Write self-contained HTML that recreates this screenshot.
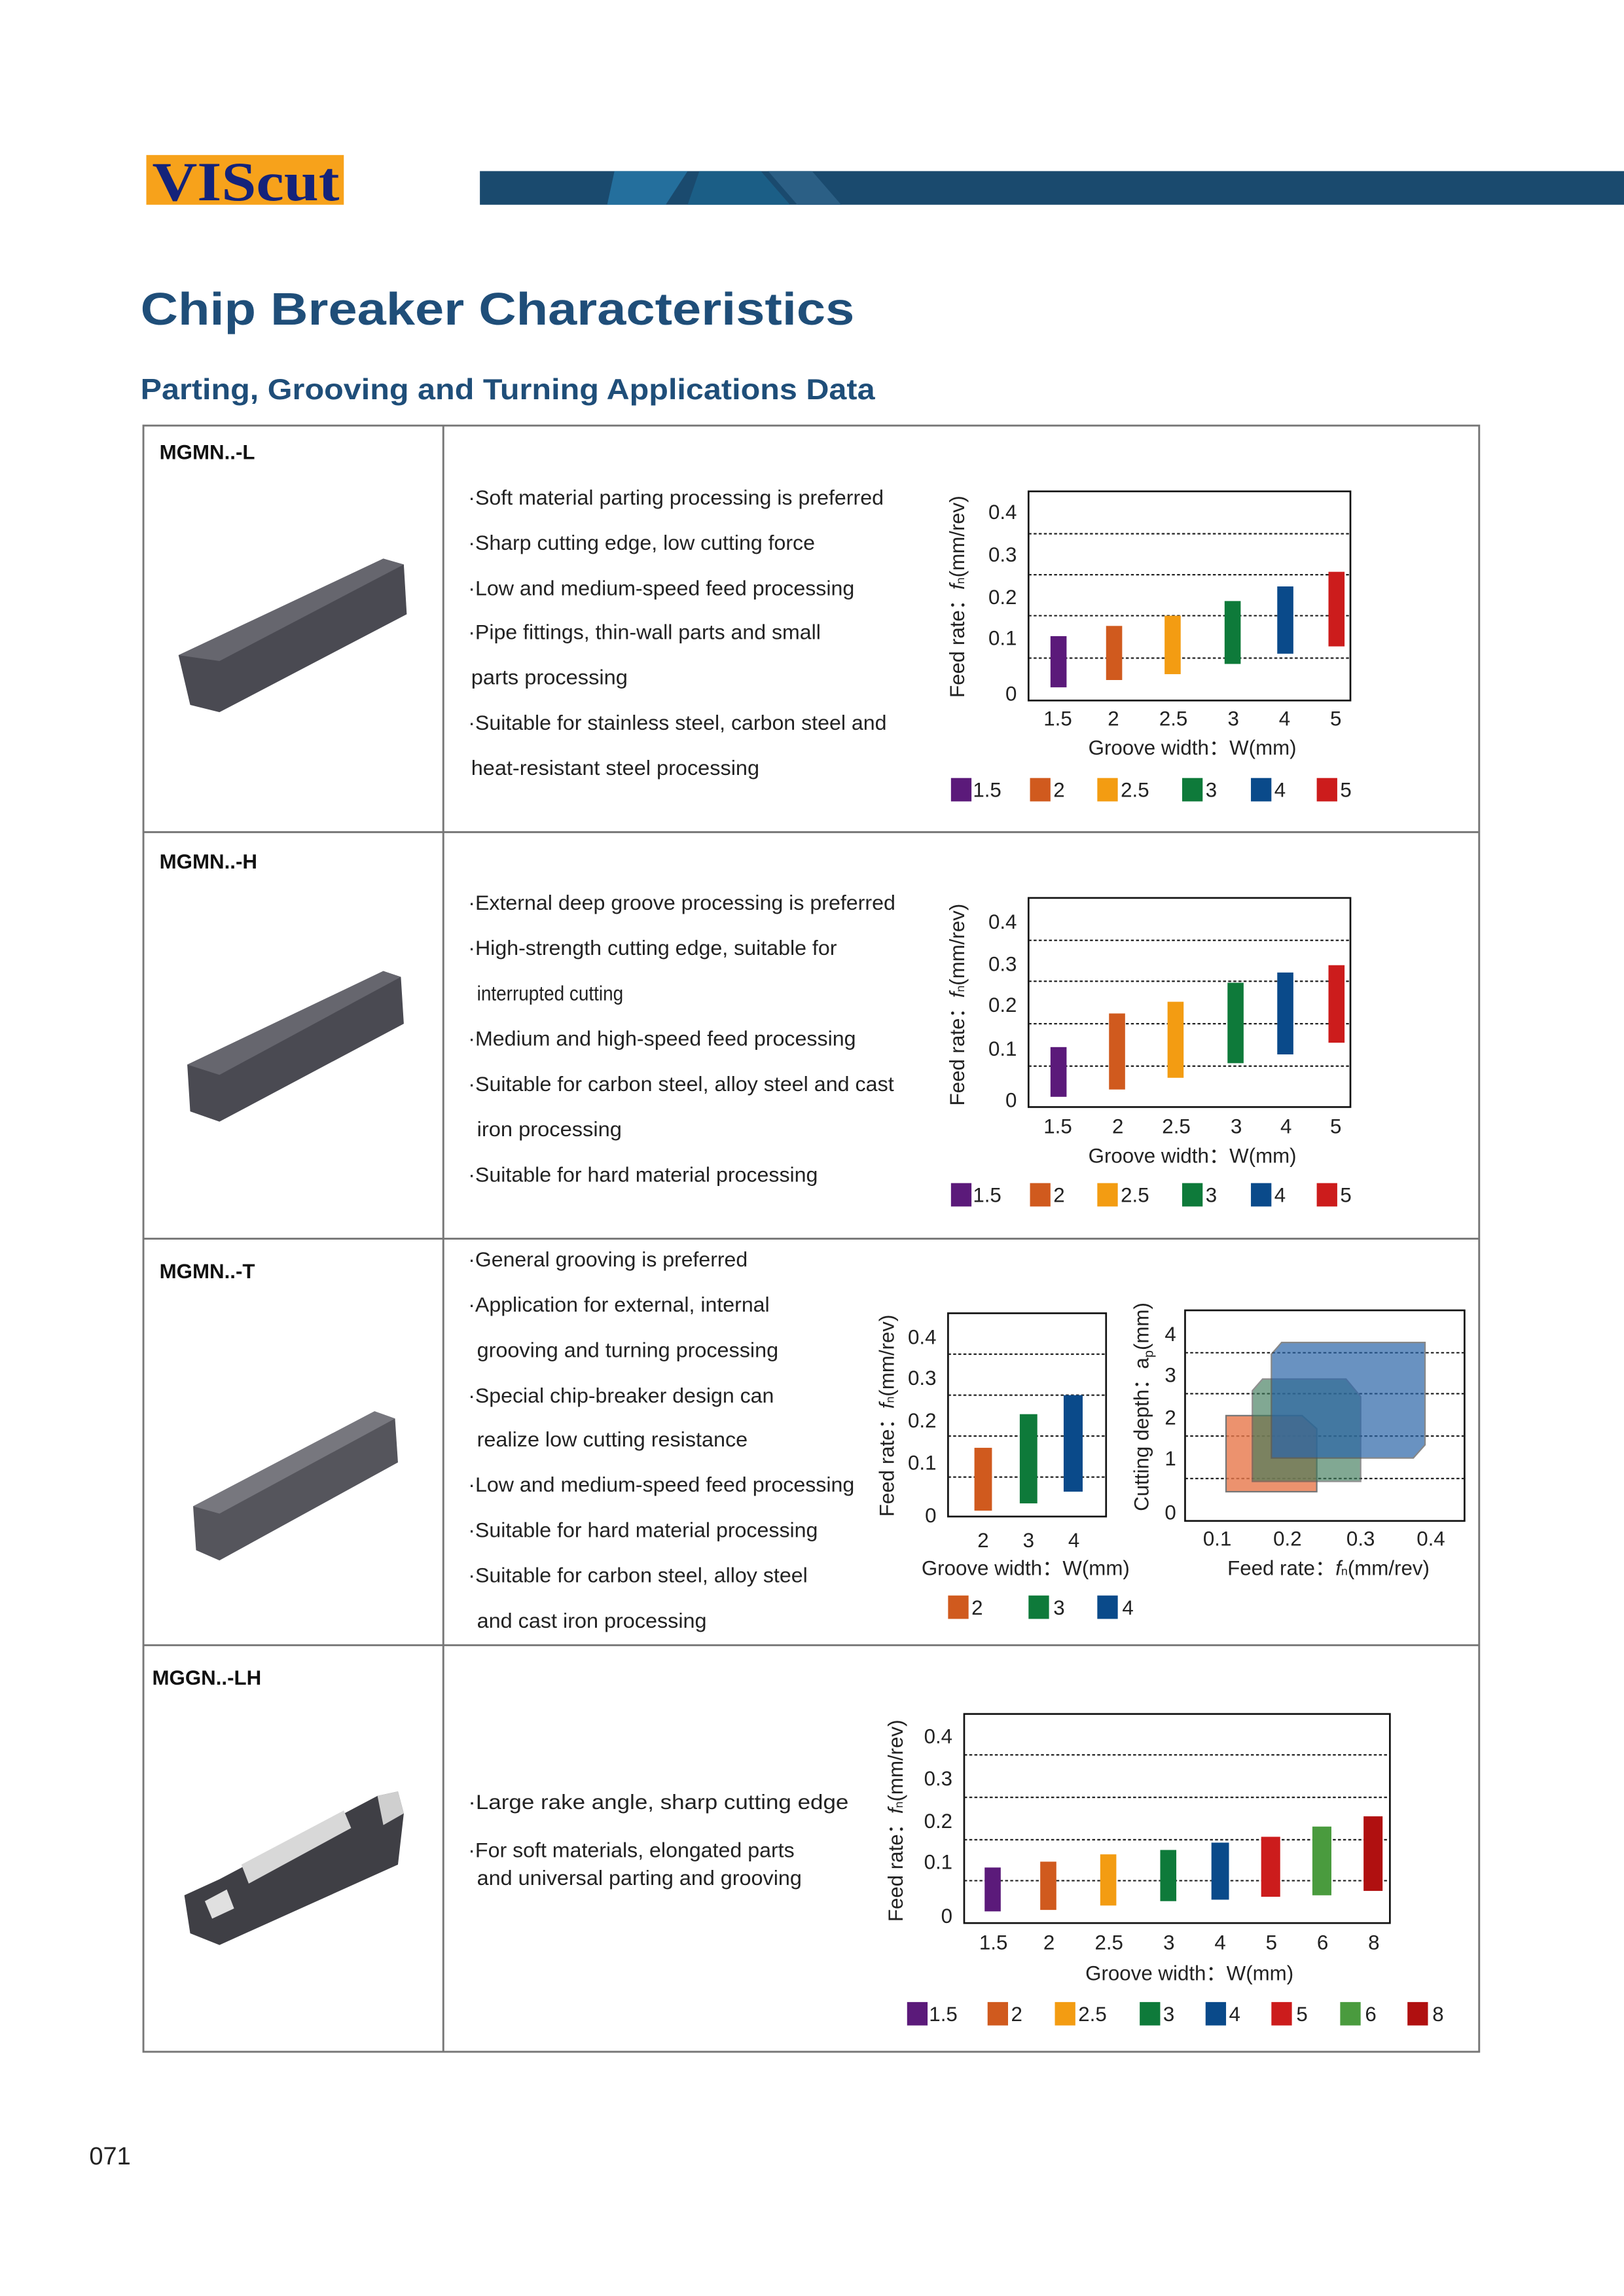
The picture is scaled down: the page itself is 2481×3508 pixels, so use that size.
<!DOCTYPE html>
<html><head><meta charset="utf-8"><style>
html,body{margin:0;padding:0;background:#fff}
svg{display:block}
text{font-family:"Liberation Sans","Noto Sans CJK SC",sans-serif}
</style></head><body>
<svg width="2481" height="3508" viewBox="0 0 1110 1570" preserveAspectRatio="none" xmlns="http://www.w3.org/2000/svg">
<rect width="1110" height="1570" fill="#fff"/>
<!-- header -->
<rect x="100" y="106" width="135" height="34" fill="#f7a21b"/>
<text x="104" y="137" style="font-family:'Liberation Serif',serif" font-weight="bold" font-size="38" fill="#14237a" textLength="128" lengthAdjust="spacingAndGlyphs">VIScut</text>
<rect x="328" y="117" width="782" height="23" fill="#1a4a6e"/>
<path d="M420 117 L470 117 L455 140 L415 140 Z" fill="#2a7fb0" opacity="0.7"/>
<path d="M478 117 L520 117 L540 140 L470 140 Z" fill="#1d6690" opacity="0.7"/>
<path d="M525 117 L555 117 L575 140 L545 140 Z" fill="#2b5f85"/>
<text x="96" y="222" font-size="31" font-weight="bold" fill="#1f4e79" textLength="488" lengthAdjust="spacingAndGlyphs">Chip Breaker Characteristics</text>
<text x="96" y="273" font-size="20" font-weight="bold" fill="#1f4e79" textLength="502" lengthAdjust="spacingAndGlyphs">Parting, Grooving and Turning Applications Data</text>
<!-- table -->
<g stroke="#777" stroke-width="1.3" fill="none">
<rect x="98" y="291" width="913" height="1112"/>
<line x1="303" y1="291" x2="303" y2="1403"/>
<line x1="98" y1="569" x2="1011" y2="569"/>
<line x1="98" y1="847" x2="1011" y2="847"/>
<line x1="98" y1="1125" x2="1011" y2="1125"/>
</g>
<g font-size="14" font-weight="bold" fill="#111">
<text x="109" y="314">MGMN..-L</text>
<text x="109" y="594">MGMN..-H</text>
<text x="109" y="874">MGMN..-T</text>
<text x="104" y="1152">MGGN..-LH</text>
</g>
<!-- inserts -->
<g>
<path d="M122 448 L262 382 L276 386 L278 420 L150 487 L130 482 Z" fill="#4a4a52"/>
<path d="M122 448 L262 382 L276 386 L150 452 Z" fill="#66666e"/>
<path d="M128 728 L262 664 L274 668 L276 700 L150 767 L130 760 Z" fill="#4a4a52"/>
<path d="M128 728 L262 664 L274 668 L150 735 Z" fill="#66666e"/>
<path d="M132 1030 L256 965 L270 970 L272 1000 L150 1067 L134 1060 Z" fill="#55555c"/>
<path d="M132 1030 L256 965 L270 970 L150 1035 Z" fill="#77777e"/>
<path d="M126 1296 L150 1285 L258 1228 L272 1225 L276 1240 L272 1275 L150 1330 L130 1322 Z" fill="#3f3f45"/>
<path d="M165 1275 L235 1238 L240 1250 L170 1288 Z" fill="#d8d8d8"/>
<path d="M258 1228 L272 1225 L276 1240 L262 1248 Z" fill="#cfcfcf"/>
<path d="M140 1300 L155 1292 L160 1305 L145 1312 Z" fill="#e0e0e0"/>
</g>
<!-- texts -->
<g font-size="14" fill="#222">
<text x="320" y="345" textLength="284" lengthAdjust="spacingAndGlyphs">·Soft material parting processing is preferred</text>
<text x="320" y="376" textLength="237" lengthAdjust="spacingAndGlyphs">·Sharp cutting edge, low cutting force</text>
<text x="320" y="407" textLength="264" lengthAdjust="spacingAndGlyphs">·Low and medium-speed feed processing</text>
<text x="320" y="437" textLength="241" lengthAdjust="spacingAndGlyphs">·Pipe fittings, thin-wall parts and small</text>
<text x="322" y="468" textLength="107" lengthAdjust="spacingAndGlyphs">parts processing</text>
<text x="320" y="499" textLength="286" lengthAdjust="spacingAndGlyphs">·Suitable for stainless steel, carbon steel and</text>
<text x="322" y="530" textLength="197" lengthAdjust="spacingAndGlyphs">heat-resistant steel processing</text>

<text x="320" y="622" textLength="292" lengthAdjust="spacingAndGlyphs">·External deep groove processing is preferred</text>
<text x="320" y="653" textLength="252" lengthAdjust="spacingAndGlyphs">·High-strength cutting edge, suitable for</text>
<text x="326" y="684" textLength="100" lengthAdjust="spacingAndGlyphs">interrupted cutting</text>
<text x="320" y="715" textLength="265" lengthAdjust="spacingAndGlyphs">·Medium and high-speed feed processing</text>
<text x="320" y="746" textLength="291" lengthAdjust="spacingAndGlyphs">·Suitable for carbon steel, alloy steel and cast</text>
<text x="326" y="777" textLength="99" lengthAdjust="spacingAndGlyphs">iron processing</text>
<text x="320" y="808" textLength="239" lengthAdjust="spacingAndGlyphs">·Suitable for hard material processing</text>

<text x="320" y="866" textLength="191" lengthAdjust="spacingAndGlyphs">·General grooving is preferred</text>
<text x="320" y="897" textLength="206" lengthAdjust="spacingAndGlyphs">·Application for external, internal</text>
<text x="326" y="928" textLength="206" lengthAdjust="spacingAndGlyphs">grooving and turning processing</text>
<text x="320" y="959" textLength="209" lengthAdjust="spacingAndGlyphs">·Special chip-breaker design can</text>
<text x="326" y="989" textLength="185" lengthAdjust="spacingAndGlyphs">realize low cutting resistance</text>
<text x="320" y="1020" textLength="264" lengthAdjust="spacingAndGlyphs">·Low and medium-speed feed processing</text>
<text x="320" y="1051" textLength="239" lengthAdjust="spacingAndGlyphs">·Suitable for hard material processing</text>
<text x="320" y="1082" textLength="232" lengthAdjust="spacingAndGlyphs">·Suitable for carbon steel, alloy steel</text>
<text x="326" y="1113" textLength="157" lengthAdjust="spacingAndGlyphs">and cast iron processing</text>

<text x="320" y="1237" textLength="260" lengthAdjust="spacingAndGlyphs">·Large rake angle, sharp cutting edge</text>
<text x="320" y="1270" textLength="223" lengthAdjust="spacingAndGlyphs">·For soft materials, elongated parts</text>
<text x="326" y="1289" textLength="222" lengthAdjust="spacingAndGlyphs">and universal parting and grooving</text>
</g>

<!-- CHART 1 -->
<g font-size="14" fill="#222">
<rect x="703" y="336" width="220" height="143" fill="none" stroke="#111" stroke-width="1.2"/>
<g stroke="#222" stroke-dasharray="2,1.5" stroke-width="1"><line x1="703" y1="365" x2="923" y2="365"/><line x1="703" y1="393" x2="923" y2="393"/><line x1="703" y1="421" x2="923" y2="421"/><line x1="703" y1="450" x2="923" y2="450"/></g>
<text x="695" y="355" text-anchor="end">0.4</text><text x="695" y="384" text-anchor="end">0.3</text><text x="695" y="413" text-anchor="end">0.2</text><text x="695" y="441" text-anchor="end">0.1</text><text x="695" y="479" text-anchor="end">0</text>
<rect x="718" y="435" width="11" height="35" fill="#5b1a7a"/>
<rect x="756" y="428" width="11" height="37" fill="#d05a1e"/>
<rect x="796" y="421" width="11" height="40" fill="#f39c12"/>
<rect x="837" y="411" width="11" height="43" fill="#0e7a3a"/>
<rect x="873" y="401" width="11" height="46" fill="#0a4a8a"/>
<rect x="908" y="391" width="11" height="51" fill="#cc1c1c"/>
<g text-anchor="middle"><text x="723" y="496">1.5</text><text x="761" y="496">2</text><text x="802" y="496">2.5</text><text x="843" y="496">3</text><text x="878" y="496">4</text><text x="913" y="496">5</text>
<text x="815" y="516">Groove width：W(mm)</text></g>
<text transform="translate(659,408) rotate(-90)" text-anchor="middle">Feed rate：<tspan font-style="italic">f</tspan><tspan font-size="8">n</tspan>(mm/rev)</text>
<rect x="650" y="532" width="14" height="16" fill="#5b1a7a"/><text x="665" y="545">1.5</text>
<rect x="704" y="532" width="14" height="16" fill="#d05a1e"/><text x="720" y="545">2</text>
<rect x="750" y="532" width="14" height="16" fill="#f39c12"/><text x="766" y="545">2.5</text>
<rect x="808" y="532" width="14" height="16" fill="#0e7a3a"/><text x="824" y="545">3</text>
<rect x="855" y="532" width="14" height="16" fill="#0a4a8a"/><text x="871" y="545">4</text>
<rect x="900" y="532" width="14" height="16" fill="#cc1c1c"/><text x="916" y="545">5</text>
</g>

<!-- CHART 2 -->
<g font-size="14" fill="#222">
<rect x="703" y="614" width="220" height="143" fill="none" stroke="#111" stroke-width="1.2"/>
<g stroke="#222" stroke-dasharray="2,1.5" stroke-width="1"><line x1="703" y1="643" x2="923" y2="643"/><line x1="703" y1="671" x2="923" y2="671"/><line x1="703" y1="700" x2="923" y2="700"/><line x1="703" y1="729" x2="923" y2="729"/></g>
<text x="695" y="635" text-anchor="end">0.4</text><text x="695" y="664" text-anchor="end">0.3</text><text x="695" y="692" text-anchor="end">0.2</text><text x="695" y="722" text-anchor="end">0.1</text><text x="695" y="757" text-anchor="end">0</text>
<rect x="718" y="716" width="11" height="34" fill="#5b1a7a"/>
<rect x="758" y="693" width="11" height="52" fill="#d05a1e"/>
<rect x="798" y="685" width="11" height="52" fill="#f39c12"/>
<rect x="839" y="672" width="11" height="55" fill="#0e7a3a"/>
<rect x="873" y="665" width="11" height="56" fill="#0a4a8a"/>
<rect x="908" y="660" width="11" height="53" fill="#cc1c1c"/>
<g text-anchor="middle"><text x="723" y="775">1.5</text><text x="764" y="775">2</text><text x="804" y="775">2.5</text><text x="845" y="775">3</text><text x="879" y="775">4</text><text x="913" y="775">5</text>
<text x="815" y="795">Groove width：W(mm)</text></g>
<text transform="translate(659,687) rotate(-90)" text-anchor="middle">Feed rate：<tspan font-style="italic">f</tspan><tspan font-size="8">n</tspan>(mm/rev)</text>
<rect x="650" y="809" width="14" height="16" fill="#5b1a7a"/><text x="665" y="822">1.5</text>
<rect x="704" y="809" width="14" height="16" fill="#d05a1e"/><text x="720" y="822">2</text>
<rect x="750" y="809" width="14" height="16" fill="#f39c12"/><text x="766" y="822">2.5</text>
<rect x="808" y="809" width="14" height="16" fill="#0e7a3a"/><text x="824" y="822">3</text>
<rect x="855" y="809" width="14" height="16" fill="#0a4a8a"/><text x="871" y="822">4</text>
<rect x="900" y="809" width="14" height="16" fill="#cc1c1c"/><text x="916" y="822">5</text>
</g>

<!-- CHART 3a -->
<g font-size="14" fill="#222">
<rect x="648" y="898" width="108" height="139" fill="none" stroke="#111" stroke-width="1.2"/>
<g stroke="#222" stroke-dasharray="2,1.5" stroke-width="1"><line x1="648" y1="926" x2="756" y2="926"/><line x1="648" y1="954" x2="756" y2="954"/><line x1="648" y1="982" x2="756" y2="982"/><line x1="648" y1="1010" x2="756" y2="1010"/></g>
<text x="640" y="919" text-anchor="end">0.4</text><text x="640" y="947" text-anchor="end">0.3</text><text x="640" y="976" text-anchor="end">0.2</text><text x="640" y="1005" text-anchor="end">0.1</text><text x="640" y="1041" text-anchor="end">0</text>
<rect x="666" y="990" width="12" height="43" fill="#d05a1e"/>
<rect x="697" y="967" width="12" height="61" fill="#0e7a3a"/>
<rect x="727" y="954" width="13" height="66" fill="#0a4a8a"/>
<g text-anchor="middle"><text x="672" y="1058">2</text><text x="703" y="1058">3</text><text x="734" y="1058">4</text>
<text x="701" y="1077">Groove width：W(mm)</text></g>
<text transform="translate(611,968) rotate(-90)" text-anchor="middle">Feed rate：<tspan font-style="italic">f</tspan><tspan font-size="8">n</tspan>(mm/rev)</text>
<rect x="648" y="1091" width="14" height="16" fill="#d05a1e"/><text x="664" y="1104">2</text>
<rect x="703" y="1091" width="14" height="16" fill="#0e7a3a"/><text x="720" y="1104">3</text>
<rect x="750" y="1091" width="14" height="16" fill="#0a4a8a"/><text x="767" y="1104">4</text>
</g>

<!-- CHART 3b -->
<g font-size="14" fill="#222">
<rect x="810" y="896" width="191" height="144" fill="none" stroke="#111" stroke-width="1.2"/>
<g stroke="#222" stroke-dasharray="2,1.5" stroke-width="1"><line x1="810" y1="925" x2="1001" y2="925"/><line x1="810" y1="953" x2="1001" y2="953"/><line x1="810" y1="982" x2="1001" y2="982"/><line x1="810" y1="1011" x2="1001" y2="1011"/></g>
<path d="M838 968 L890 968 L900 977 L900 1020 L838 1020 Z" fill="#e8784a" opacity="0.8" stroke="#555" stroke-width="1"/>
<path d="M856 951 L863 943 L920 943 L930 955 L930 1013 L856 1013 Z" fill="#3f7a5a" opacity="0.65" stroke="#555" stroke-width="1"/>
<path d="M869 926 L876 918 L974 918 L974 988 L966 997 L869 997 Z" fill="#2a64a8" opacity="0.7" stroke="#555" stroke-width="1"/>
<text x="800" y="917" text-anchor="middle">4</text><text x="800" y="945" text-anchor="middle">3</text><text x="800" y="974" text-anchor="middle">2</text><text x="800" y="1002" text-anchor="middle">1</text><text x="800" y="1039" text-anchor="middle">0</text>
<g text-anchor="middle"><text x="832" y="1057">0.1</text><text x="880" y="1057">0.2</text><text x="930" y="1057">0.3</text><text x="978" y="1057">0.4</text>
<text x="908" y="1077">Feed rate：<tspan font-style="italic">f</tspan><tspan font-size="8">n</tspan>(mm/rev)</text></g>
<text transform="translate(785,962) rotate(-90)" text-anchor="middle">Cutting depth：a<tspan font-size="9" dy="3">p</tspan><tspan dy="-3">(mm)</tspan></text>
</g>

<!-- CHART 4 -->
<g font-size="14" fill="#222">
<rect x="659" y="1172" width="291" height="143" fill="none" stroke="#111" stroke-width="1.2"/>
<g stroke="#222" stroke-dasharray="2,1.5" stroke-width="1"><line x1="659" y1="1200" x2="950" y2="1200"/><line x1="659" y1="1229" x2="950" y2="1229"/><line x1="659" y1="1258" x2="950" y2="1258"/><line x1="659" y1="1286" x2="950" y2="1286"/></g>
<text x="651" y="1192" text-anchor="end">0.4</text><text x="651" y="1221" text-anchor="end">0.3</text><text x="651" y="1250" text-anchor="end">0.2</text><text x="651" y="1278" text-anchor="end">0.1</text><text x="651" y="1315" text-anchor="end">0</text>
<rect x="673" y="1277" width="11" height="30" fill="#5b1a7a"/>
<rect x="711" y="1273" width="11" height="33" fill="#d05a1e"/>
<rect x="752" y="1268" width="11" height="35" fill="#f39c12"/>
<rect x="793" y="1265" width="11" height="35" fill="#0e7a3a"/>
<rect x="828" y="1260" width="12" height="39" fill="#0a4a8a"/>
<rect x="862" y="1256" width="13" height="41" fill="#cc1c1c"/>
<rect x="897" y="1249" width="13" height="47" fill="#4a9b3e"/>
<rect x="932" y="1242" width="13" height="51" fill="#b01010"/>
<g text-anchor="middle"><text x="679" y="1333">1.5</text><text x="717" y="1333">2</text><text x="758" y="1333">2.5</text><text x="799" y="1333">3</text><text x="834" y="1333">4</text><text x="869" y="1333">5</text><text x="904" y="1333">6</text><text x="939" y="1333">8</text>
<text x="813" y="1354">Groove width：W(mm)</text></g>
<text transform="translate(617,1245) rotate(-90)" text-anchor="middle">Feed rate：<tspan font-style="italic">f</tspan><tspan font-size="8">n</tspan>(mm/rev)</text>
<rect x="620" y="1369" width="14" height="16" fill="#5b1a7a"/><text x="635" y="1382">1.5</text>
<rect x="675" y="1369" width="14" height="16" fill="#d05a1e"/><text x="691" y="1382">2</text>
<rect x="721" y="1369" width="14" height="16" fill="#f39c12"/><text x="737" y="1382">2.5</text>
<rect x="779" y="1369" width="14" height="16" fill="#0e7a3a"/><text x="795" y="1382">3</text>
<rect x="824" y="1369" width="14" height="16" fill="#0a4a8a"/><text x="840" y="1382">4</text>
<rect x="869" y="1369" width="14" height="16" fill="#cc1c1c"/><text x="886" y="1382">5</text>
<rect x="916" y="1369" width="14" height="16" fill="#4a9b3e"/><text x="933" y="1382">6</text>
<rect x="962" y="1369" width="14" height="16" fill="#b01010"/><text x="979" y="1382">8</text>
</g>

<text x="61" y="1480" font-size="17" fill="#222">071</text>
</svg>
</body></html>
